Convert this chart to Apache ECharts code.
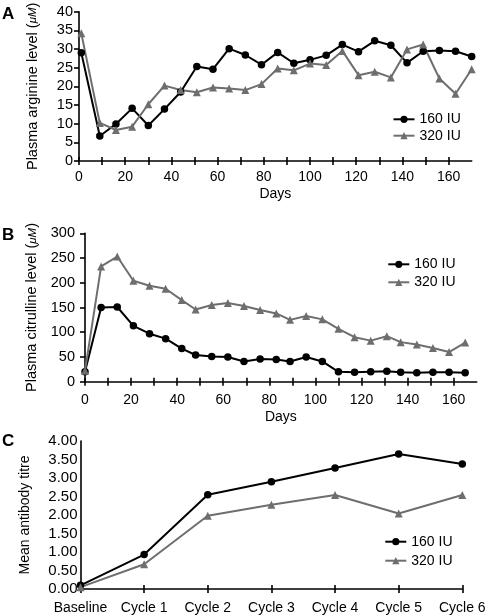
<!DOCTYPE html>
<html><head><meta charset="utf-8">
<script src="https://cdn.jsdelivr.net/npm/echarts@6/dist/echarts.min.js"></script>
<style>html,body{margin:0;padding:0;background:#fff}#c{width:488px;height:616px}</style>
</head><body><div id="c"></div>
<script>
const seriesNames = ['160 IU', '320 IU'];

// Panel A: plasma arginine
const daysA = [1, 9, 16, 23, 30, 37, 44, 51, 58, 65, 72, 79, 86, 93, 100, 107, 114, 121, 128, 135, 142, 149, 156, 163, 170];
const arginine160 = [29.0, 6.7, 9.9, 14.1, 9.5, 13.9, 18.5, 25.3, 24.6, 30.1, 28.4, 25.8, 29.1, 26.2, 27.1, 28.3, 31.2, 29.3, 32.2, 31.0, 26.3, 29.4, 29.6, 29.4, 28.0];
const arginine320 = [34.2, 10.2, 8.3, 9.2, 15.2, 20.2, 19.0, 18.4, 19.7, 19.4, 19.0, 20.6, 24.8, 24.3, 26.1, 25.7, 29.5, 23.0, 23.9, 22.4, 29.9, 31.2, 22.1, 18.0, 24.6];

// Panel B: plasma citrulline
const daysB = [0, 7, 14, 21, 28, 35, 42, 48, 55, 62, 69, 76, 83, 89, 96, 103, 110, 117, 124, 131, 137, 144, 151, 158, 165];
const citrulline160 = [20, 150, 151, 113, 97, 87, 67, 54, 51, 50, 41, 46, 45, 41, 50, 41, 20, 19, 20, 21, 19, 18, 19, 19, 18];
const citrulline320 = [22, 233, 253, 204, 194, 188, 165, 146, 155, 159, 153, 145, 138, 125, 133, 126, 107, 90, 83, 92, 80, 75, 68, 60, 79];

// Panel C: antibody titre
const cyclesC = ['Baseline', 'Cycle 1', 'Cycle 2', 'Cycle 3', 'Cycle 4', 'Cycle 5', 'Cycle 6'];
const titre160 = [0.10, 0.93, 2.55, 2.90, 3.27, 3.65, 3.38];
const titre320 = [0.05, 0.67, 1.98, 2.28, 2.54, 2.04, 2.54];

// Tick values / labels
const dayTicks = [0, 10, 20, 30, 40, 50, 60, 70, 80, 90, 100, 110, 120, 130, 140, 150, 160];
const dayLabels = [0, 20, 40, 60, 80, 100, 120, 140, 160];

const FONT = "'Liberation Sans', Arial, Helvetica, sans-serif";
const BLACK = '#000000';
const GREY = '#6e6e6e';

const chart = echarts.init(document.getElementById('c'), null, {renderer: 'canvas'});

function pairs(xs, ys) { return xs.map((x, i) => [x, ys[i]]); }

const axisLineStyle = {show: true, lineStyle: {color: '#000', width: 1.6}};
const xLabelStyle = {color: '#000', fontSize: 14, fontFamily: FONT};
const yLabelStyle = {color: '#000', fontSize: 14.5, fontFamily: FONT};

function dayAxis(gridIndex, withLabels, margin, nameGap) {
  return {
    type: 'value', gridIndex, position: 'bottom', min: 0, max: 170, interval: 10,
    axisLine: withLabels ? axisLineStyle : {show: false},
    axisTick: {show: true, inside: !withLabels, length: 4, customValues: dayTicks, lineStyle: {color: '#000', width: 1.6}},
    axisLabel: withLabels ? Object.assign({show: true, margin, customValues: dayLabels}, xLabelStyle) : {show: false},
    splitLine: {show: false},
    name: withLabels ? 'Days' : '', nameLocation: 'middle', nameGap,
    nameTextStyle: {color: '#000', fontSize: 14, fontFamily: FONT}
  };
}

function lineSeries(name, xi, yi, data, isBlack) {
  return {
    name, type: 'line', xAxisIndex: xi, yAxisIndex: yi, data,
    symbol: isBlack ? 'circle' : 'triangle',
    symbolSize: isBlack ? 7.5 : 8,
    itemStyle: {color: isBlack ? BLACK : GREY},
    lineStyle: {color: isBlack ? BLACK : GREY, width: 2},
    emphasis: {disabled: true},
    animation: false
  };
}

function legend(left, top, gap) {
  return {
    orient: 'vertical', left, top, padding: 0, itemWidth: 21, itemHeight: 9, itemGap: gap,
    selectedMode: false, data: seriesNames,
    textStyle: {color: '#000', fontSize: 14, lineHeight: 14, fontFamily: FONT}
  };
}

const titleStyle = {color: '#000', fontSize: 14.5, fontFamily: FONT,
  rich: {it: {fontStyle: 'italic', fontSize: 11.5, fontFamily: FONT, color: '#000'}}};

const option = {
  backgroundColor: '#fff',
  animation: false,
  grid: [
    {left: 79, top: 11.7, width: 392.7, height: 149.3, outerBoundsMode: 'none', containLabel: false},
    {left: 85, top: 233.3, width: 391.7, height: 148.4, outerBoundsMode: 'none', containLabel: false},
    {left: 80.5, top: 441, width: 381.8, height: 148, outerBoundsMode: 'none', containLabel: false}
  ],
  legend: [legend(392.5, 112.3, 2.4), legend(387.3, 257.3, 4), legend(384.3, 534.7, 5)],
  xAxis: [
    dayAxis(0, true, 9, 26), dayAxis(0, false, 0, 0),
    dayAxis(1, true, 11, 28), dayAxis(1, false, 0, 0),
    {
      type: 'category', gridIndex: 2, position: 'bottom', data: cyclesC, boundaryGap: false,
      axisLine: axisLineStyle,
      axisTick: {show: true, length: 4, lineStyle: {color: '#000', width: 1.6}},
      axisLabel: Object.assign({margin: 12, interval: 0}, xLabelStyle),
      splitLine: {show: false}
    },
    {
      type: 'category', gridIndex: 2, position: 'bottom', data: cyclesC, boundaryGap: false,
      axisLine: {show: false},
      axisTick: {show: true, inside: true, length: 4, lineStyle: {color: '#000', width: 1.6}},
      axisLabel: {show: false}, splitLine: {show: false}
    }
  ],
  yAxis: [
    {
      type: 'value', gridIndex: 0, min: 0, max: 40, interval: 5,
      axisLine: axisLineStyle,
      axisTick: {show: true, length: 5, lineStyle: {color: '#000', width: 1.6}},
      axisLabel: Object.assign({margin: 6}, yLabelStyle),
      splitLine: {show: false},
      name: 'Plasma arginine level ({it|μM})', nameLocation: 'middle', nameGap: 39, nameRotate: 90,
      nameTextStyle: titleStyle
    },
    {
      type: 'value', gridIndex: 1, min: 0, max: 300, interval: 50,
      axisLine: axisLineStyle,
      axisTick: {show: true, length: 5, lineStyle: {color: '#000', width: 1.6}},
      axisLabel: Object.assign({margin: 10}, yLabelStyle),
      splitLine: {show: false},
      name: 'Plasma citrulline level ({it|μM})', nameLocation: 'middle', nameGap: 45, nameRotate: 90,
      nameTextStyle: titleStyle
    },
    {
      type: 'value', gridIndex: 2, min: 0, max: 4, interval: 0.5,
      axisLine: axisLineStyle,
      axisTick: {show: false},
      axisLabel: Object.assign({margin: 3, formatter: v => v.toFixed(2)}, yLabelStyle, {fontSize: 15}),
      splitLine: {show: false},
      name: 'Mean antibody titre', nameLocation: 'middle', nameGap: 48, nameRotate: 90,
      nameTextStyle: {color: '#000', fontSize: 14, fontFamily: FONT}
    }
  ],
  series: [
    lineSeries(seriesNames[0], 0, 0, pairs(daysA, arginine160), true),
    lineSeries(seriesNames[1], 0, 0, pairs(daysA, arginine320), false),
    lineSeries(seriesNames[0], 2, 1, pairs(daysB, citrulline160), true),
    lineSeries(seriesNames[1], 2, 1, pairs(daysB, citrulline320), false),
    lineSeries(seriesNames[0], 4, 2, titre160, true),
    lineSeries(seriesNames[1], 4, 2, titre320, false)
  ],
  graphic: [
    {type: 'text', left: 2, top: 6, style: {text: 'A', font: 'bold 17px ' + FONT, fill: '#000'}},
    {type: 'text', left: 2, top: 227, style: {text: 'B', font: 'bold 17px ' + FONT, fill: '#000'}},
    {type: 'text', left: 2, top: 433, style: {text: 'C', font: 'bold 17px ' + FONT, fill: '#000'}}
  ]
};
chart.setOption(option);
</script>
</body></html>
